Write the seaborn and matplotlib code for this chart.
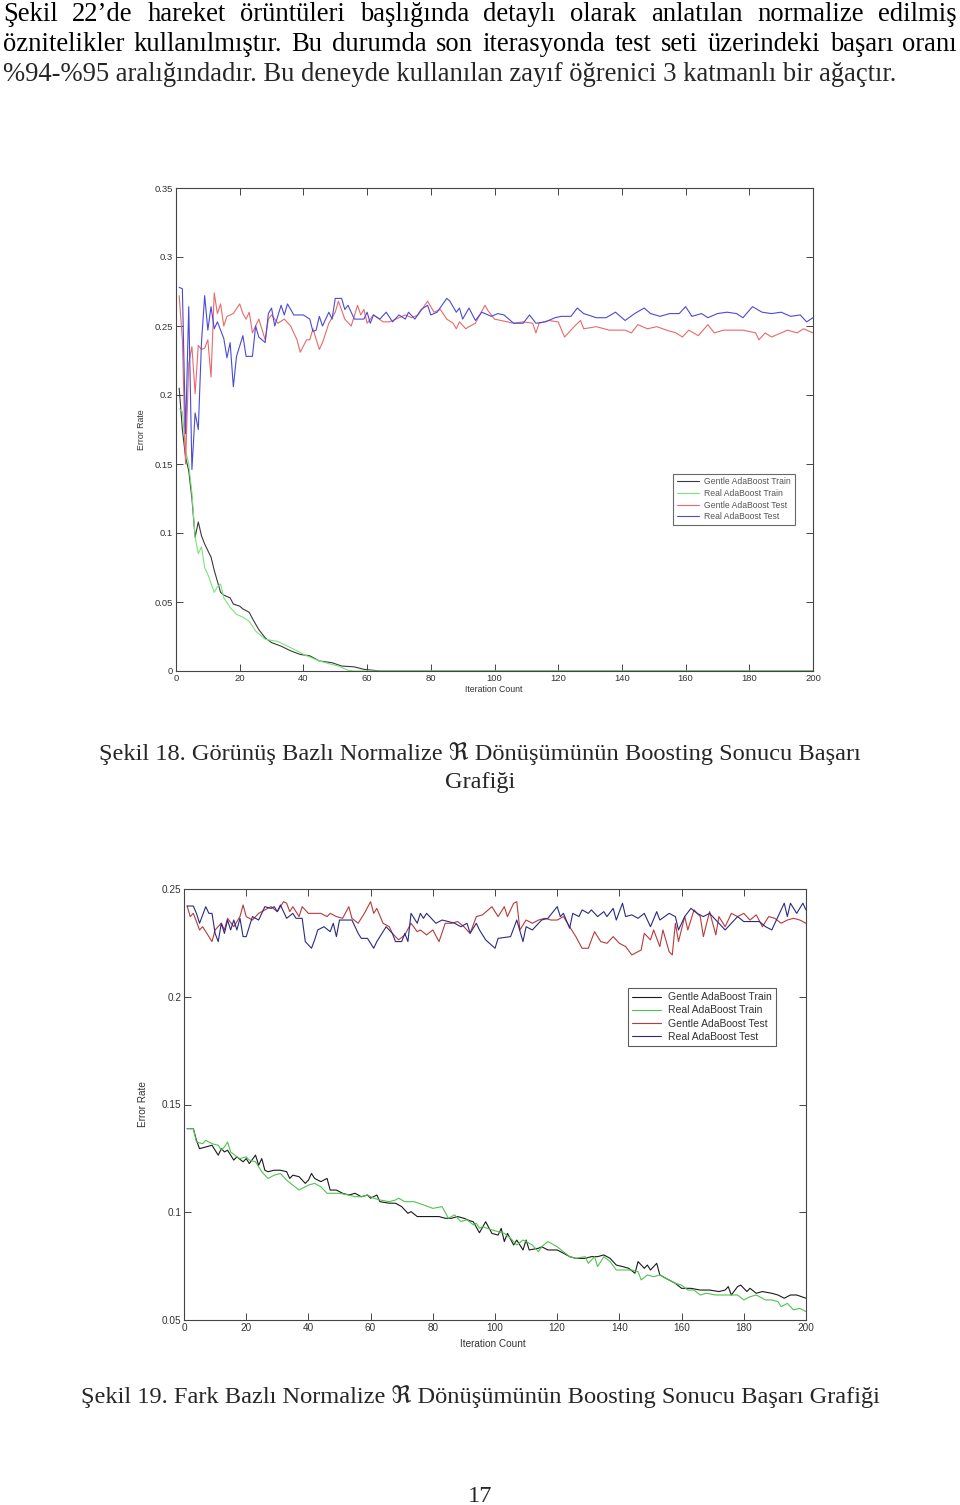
import numpy as np
import pandas as pd
import matplotlib
matplotlib.use("Agg")
import matplotlib.pyplot as plt
import seaborn as sns

# ---- data: chart 1 (Şekil 18) ----
c1_gentle_train_it = [1, 2, 3, 4, 5, 6, 7, 8, 9, 11, 12, 13, 14, 15, 17, 18, 20, 21, 23, 24, 26, 28, 30,
                      33, 36, 39, 42, 45, 49, 52, 56, 59, 62, 64, 200]
c1_gentle_train = [0.205, 0.175, 0.155, 0.145, 0.125, 0.097, 0.108, 0.098, 0.092, 0.0825, 0.073, 0.065,
                   0.057, 0.055, 0.053, 0.0485, 0.047, 0.045, 0.0425, 0.038, 0.030, 0.024, 0.0206,
                   0.018, 0.0146, 0.012, 0.011, 0.0073, 0.006, 0.0036, 0.003, 0.0012, 0.0005, 0.0, 0.0]

c1_real_train_it = [1, 2, 3, 4, 5, 6, 7, 8, 9, 10, 12, 13, 14, 15, 17, 19, 21, 23, 25, 28, 32, 35, 38,
                    41, 45, 48, 51, 54, 56, 200]
c1_real_train = [0.19, 0.188, 0.16, 0.150, 0.129, 0.097, 0.085, 0.090, 0.075, 0.070, 0.057, 0.061, 0.063,
                 0.053, 0.046, 0.041, 0.039, 0.036, 0.029, 0.023, 0.0214, 0.018, 0.0146, 0.011, 0.0073,
                 0.0053, 0.0036, 0.0005, 0.0, 0.0]

c1_gentle_test_it = [1, 2, 3, 4, 5, 6, 7, 8, 9, 10, 11, 12, 13, 14, 15, 16, 18, 20, 21, 22, 23, 24, 26,
                     28, 29, 30, 32, 34, 36, 38, 39, 41, 42, 43, 45, 46, 47, 48, 50, 51, 53, 55, 57, 58,
                     59, 60, 62, 65, 67, 70, 72, 74, 76, 79, 81, 83, 85, 87, 88, 89, 91, 92, 94, 97, 98,
                     100, 102, 106, 109, 112, 113, 114, 117, 120, 122, 125, 127, 128, 132, 136, 141, 143,
                     145, 148, 151, 154, 157, 159, 161, 164, 167, 169, 172, 175, 178, 182, 183, 185, 187,
                     190, 192, 195, 197, 200]
c1_gentle_test = [0.272, 0.240, 0.150, 0.223, 0.235, 0.201, 0.236, 0.233, 0.234, 0.240, 0.213, 0.274,
                  0.259, 0.266, 0.250, 0.257, 0.259, 0.266, 0.259, 0.255, 0.260, 0.245, 0.255, 0.240,
                  0.255, 0.258, 0.252, 0.255, 0.250, 0.240, 0.231, 0.240, 0.240, 0.248, 0.233, 0.238,
                  0.245, 0.252, 0.260, 0.268, 0.255, 0.250, 0.265, 0.258, 0.262, 0.252, 0.258, 0.253,
                  0.253, 0.256, 0.258, 0.256, 0.258, 0.268, 0.260, 0.262, 0.255, 0.252, 0.248, 0.253,
                  0.248, 0.2495, 0.252, 0.265, 0.261, 0.255, 0.254, 0.252, 0.253, 0.252, 0.245, 0.252,
                  0.254, 0.253, 0.242, 0.2495, 0.254, 0.248, 0.2495, 0.247, 0.247, 0.245, 0.251, 0.248,
                  0.2495, 0.247, 0.245, 0.242, 0.247, 0.243, 0.251, 0.245, 0.247, 0.247, 0.247, 0.245,
                  0.240, 0.245, 0.242, 0.245, 0.247, 0.245, 0.248, 0.245]

c1_real_test_it = [1, 2, 3, 4, 5, 6, 7, 8, 9, 10, 11, 12, 13, 15, 16, 17, 18, 19, 21, 22, 24, 25, 26, 28,
                   29, 30, 31, 33, 34, 35, 37, 40, 42, 43, 44, 45, 46, 48, 49, 50, 52, 53, 54, 56, 59,
                   60, 61, 62, 64, 66, 68, 70, 72, 73, 75, 77, 79, 80, 82, 85, 86, 88, 89, 90, 92, 94,
                   96, 99, 101, 103, 106, 109, 111, 113, 116, 119, 121, 124, 126, 128, 132, 135, 138,
                   141, 144, 147, 149, 152, 155, 158, 160, 162, 165, 167, 170, 173, 176, 178, 181, 184,
                   187, 190, 193, 196, 198, 200]
c1_real_test = [0.278, 0.277, 0.172, 0.264, 0.146, 0.187, 0.175, 0.238, 0.272, 0.247, 0.264, 0.248,
                0.253, 0.241, 0.227, 0.238, 0.206, 0.228, 0.243, 0.228, 0.228, 0.250, 0.242, 0.238,
                0.259, 0.263, 0.250, 0.265, 0.258, 0.266, 0.258, 0.258, 0.255, 0.246, 0.247, 0.257,
                0.250, 0.260, 0.255, 0.270, 0.270, 0.262, 0.265, 0.255, 0.255, 0.260, 0.252, 0.258,
                0.255, 0.260, 0.253, 0.258, 0.255, 0.260, 0.255, 0.262, 0.265, 0.258, 0.260, 0.270,
                0.268, 0.260, 0.263, 0.255, 0.263, 0.254, 0.260, 0.257, 0.259, 0.258, 0.252, 0.252,
                0.258, 0.252, 0.253, 0.256, 0.257, 0.257, 0.263, 0.259, 0.256, 0.256, 0.260, 0.254,
                0.259, 0.263, 0.259, 0.257, 0.259, 0.259, 0.264, 0.257, 0.259, 0.256, 0.259, 0.260,
                0.259, 0.256, 0.264, 0.260, 0.259, 0.260, 0.257, 0.258, 0.253, 0.256]

# ---- data: chart 2 (Şekil 19) ----
c2_gentle_train_it = [1, 3, 4, 5, 7, 9, 11, 12, 13, 14, 16, 17, 19, 20, 21, 23, 24, 25, 26, 27, 29, 31,
                      33, 34, 35, 37, 39, 40, 41, 42, 44, 46, 47, 49, 51, 53, 55, 57, 59, 60, 62, 63, 66,
                      68, 70, 72, 73, 75, 79, 82, 84, 86, 88, 90, 92, 93, 95, 97, 99, 101, 102, 103, 104,
                      106, 107, 109, 110, 111, 114, 115, 117, 120, 122, 124, 126, 129, 131, 133, 135, 137,
                      139, 141, 143, 145, 146, 148, 149, 150, 152, 153, 155, 158, 160, 163, 166, 169, 172,
                      174, 175, 176, 178, 179, 181, 182, 184, 186, 189, 191, 193, 195, 197, 200]
c2_gentle_train = [0.1388, 0.1388, 0.1334, 0.1295, 0.1303, 0.1311, 0.1265, 0.1295, 0.1280, 0.1288,
                   0.1242, 0.1257, 0.1234, 0.1249, 0.1226, 0.1265, 0.1218, 0.1249, 0.1195, 0.1188,
                   0.1195, 0.1195, 0.1188, 0.1157, 0.1172, 0.1165, 0.1134, 0.1149, 0.1180, 0.1157,
                   0.1142, 0.1157, 0.1103, 0.1103, 0.1088, 0.1080, 0.1088, 0.1072, 0.1080, 0.1065,
                   0.1080, 0.1049, 0.1042, 0.1042, 0.1026, 0.0995, 0.1003, 0.0980, 0.0980, 0.0980,
                   0.0972, 0.0972, 0.0980, 0.0972, 0.0960, 0.0956, 0.0905, 0.0956, 0.0902, 0.0894,
                   0.0925, 0.0864, 0.0902, 0.0848, 0.0871, 0.0825, 0.0871, 0.0825, 0.0833, 0.0840,
                   0.0825, 0.0825, 0.0810, 0.0794, 0.0786, 0.0786, 0.0794, 0.0794, 0.0802, 0.0786,
                   0.0755, 0.0748, 0.0740, 0.0717, 0.0771, 0.0740, 0.0755, 0.0732, 0.0763, 0.0709,
                   0.0693, 0.0670, 0.0647, 0.0647, 0.0639, 0.0639, 0.0632, 0.0639, 0.0655, 0.0616,
                   0.0655, 0.0662, 0.0632, 0.0647, 0.0624, 0.0632, 0.0624, 0.0616, 0.0601, 0.0616,
                   0.0616, 0.0601]

c2_real_train_it = [1, 3, 4, 6, 7, 9, 11, 12, 13, 14, 15, 17, 18, 20, 21, 23, 25, 27, 29, 31, 33, 35, 37,
                    40, 42, 44, 46, 48, 50, 53, 55, 57, 59, 61, 63, 66, 68, 69, 71, 74, 77, 80, 83, 85,
                    87, 89, 91, 93, 94, 95, 96, 99, 101, 103, 105, 107, 109, 110, 112, 114, 115, 117,
                    120, 122, 124, 126, 129, 130, 132, 133, 135, 137, 139, 141, 144, 146, 147, 149, 151,
                    153, 155, 158, 160, 162, 164, 166, 168, 171, 175, 178, 180, 182, 184, 187, 189, 191,
                    192, 194, 196, 198, 200]
c2_real_train = [0.1388, 0.1388, 0.1326, 0.1318, 0.1334, 0.1318, 0.1311, 0.1288, 0.1303, 0.1326, 0.1280,
                 0.1257, 0.1249, 0.1257, 0.1242, 0.1234, 0.1188, 0.1157, 0.1172, 0.1180, 0.1149, 0.1126,
                 0.1103, 0.1126, 0.1134, 0.1118, 0.1088, 0.1088, 0.1088, 0.1080, 0.1072, 0.1072, 0.1080,
                 0.1065, 0.1057, 0.1049, 0.1057, 0.1065, 0.1049, 0.1049, 0.1034, 0.1018, 0.1026, 0.0972,
                 0.0988, 0.0957, 0.0965, 0.0942, 0.0949, 0.0926, 0.0933, 0.0918, 0.0910, 0.0902, 0.0879,
                 0.0848, 0.0871, 0.0864, 0.0848, 0.0817, 0.0840, 0.0864, 0.0840, 0.0817, 0.0794, 0.0786,
                 0.0794, 0.0763, 0.0794, 0.0748, 0.0794, 0.0771, 0.0732, 0.0732, 0.0732, 0.0724, 0.0686,
                 0.0709, 0.0701, 0.0709, 0.0693, 0.0670, 0.0662, 0.0639, 0.0639, 0.0616, 0.0624, 0.0616,
                 0.0616, 0.0616, 0.0593, 0.0608, 0.0616, 0.0593, 0.0593, 0.0585, 0.0562, 0.0577, 0.0547,
                 0.0554, 0.0539]

c2_gentle_test_it = [1, 2, 3, 5, 6, 9, 10, 12, 13, 14, 16, 18, 19, 20, 22, 24, 26, 28, 30, 32, 33, 34, 35,
                     37, 38, 40, 42, 44, 46, 47, 49, 51, 53, 54, 56, 58, 60, 61, 62, 64, 66, 67, 69, 71,
                     73, 75, 76, 78, 80, 82, 84, 86, 88, 90, 92, 94, 96, 99, 101, 103, 104, 106, 107,
                     108, 110, 112, 114, 116, 118, 120, 122, 124, 126, 128, 130, 132, 134, 136, 138, 140,
                     142, 144, 147, 148, 150, 151, 153, 154, 156, 157, 158, 159, 161, 162, 164, 166, 167,
                     169, 171, 172, 174, 176, 178, 180, 182, 184, 186, 188, 190, 192, 194, 196, 198, 200]
c2_gentle_test = [0.2421, 0.2372, 0.2387, 0.2310, 0.2325, 0.2256, 0.2310, 0.2341, 0.2310, 0.2364,
                  0.2325, 0.2372, 0.2426, 0.2372, 0.2356, 0.2387, 0.2403, 0.2418, 0.2395, 0.2441,
                  0.2434, 0.2395, 0.2418, 0.2372, 0.2418, 0.2387, 0.2387, 0.2387, 0.2372, 0.2387,
                  0.2372, 0.2364, 0.2418, 0.2364, 0.2341, 0.2387, 0.2441, 0.2387, 0.2410, 0.2341,
                  0.2325, 0.2294, 0.2264, 0.2287, 0.2341, 0.2302, 0.2310, 0.2287, 0.2310, 0.2256,
                  0.2341, 0.2341, 0.2349, 0.2325, 0.2294, 0.2372, 0.2380, 0.2418, 0.2372, 0.2418,
                  0.2372, 0.2434, 0.2441, 0.2310, 0.2356, 0.2341, 0.2356, 0.2364, 0.2356, 0.2356,
                  0.2372, 0.2325, 0.2279, 0.2225, 0.2225, 0.2302, 0.2256, 0.2248, 0.2279, 0.2248,
                  0.2233, 0.2194, 0.2217, 0.2294, 0.2264, 0.2310, 0.2233, 0.2310, 0.2209, 0.2194,
                  0.2341, 0.2256, 0.2372, 0.2310, 0.2403, 0.2372, 0.2279, 0.2395, 0.2287, 0.2372,
                  0.2325, 0.2387, 0.2372, 0.2387, 0.2356, 0.2380, 0.2325, 0.2372, 0.2364, 0.2341,
                  0.2356, 0.2364, 0.2356, 0.2341]

c2_real_test_it = [1, 3, 4, 5, 7, 8, 9, 10, 11, 12, 13, 14, 15, 16, 17, 18, 19, 20, 22, 24, 25, 26, 28,
                   29, 30, 31, 32, 33, 35, 36, 38, 39, 41, 42, 43, 45, 47, 48, 49, 50, 53, 54, 56, 57,
                   59, 61, 62, 63, 65, 67, 68, 70, 71, 72, 73, 75, 76, 77, 78, 79, 81, 83, 85, 87, 89,
                   91, 92, 94, 95, 97, 100, 101, 105, 107, 109, 110, 112, 115, 117, 120, 121, 122, 124,
                   125, 127, 128, 130, 131, 133, 135, 136, 138, 139, 141, 142, 144, 146, 148, 150, 152,
                   153, 156, 158, 159, 161, 163, 165, 167, 169, 172, 174, 176, 178, 180, 183, 185, 187,
                   189, 191, 193, 194, 195, 197, 199, 200]
c2_real_test = [0.2421, 0.2421, 0.2387, 0.2341, 0.2418, 0.2387, 0.2387, 0.2294, 0.2256, 0.2341, 0.2294,
                0.2356, 0.2310, 0.2356, 0.2310, 0.2364, 0.2279, 0.2279, 0.2372, 0.2356, 0.2387, 0.2418,
                0.2410, 0.2418, 0.2395, 0.2426, 0.2395, 0.2364, 0.2387, 0.2364, 0.2364, 0.2256, 0.2225,
                0.2264, 0.2310, 0.2325, 0.2302, 0.2341, 0.2279, 0.2356, 0.2356, 0.2356, 0.2294, 0.2271,
                0.2271, 0.2225, 0.2256, 0.2279, 0.2325, 0.2294, 0.2256, 0.2256, 0.2294, 0.2256, 0.2387,
                0.2341, 0.2387, 0.2364, 0.2387, 0.2372, 0.2341, 0.2356, 0.2349, 0.2341, 0.2325, 0.2341,
                0.2295, 0.2341, 0.2310, 0.2264, 0.2225, 0.2271, 0.2279, 0.2356, 0.2256, 0.2325, 0.2310,
                0.2356, 0.2364, 0.2418, 0.2372, 0.2387, 0.2318, 0.2387, 0.2372, 0.2403, 0.2387, 0.2403,
                0.2372, 0.2395, 0.2372, 0.2410, 0.2356, 0.2434, 0.2372, 0.2380, 0.2364, 0.2387, 0.2325,
                0.2395, 0.2356, 0.2387, 0.2372, 0.2310, 0.2372, 0.2410, 0.2387, 0.2372, 0.2387, 0.2341,
                0.2310, 0.2341, 0.2372, 0.2349, 0.2349, 0.2349, 0.2325, 0.2310, 0.2372, 0.2434, 0.2372,
                0.2434, 0.2387, 0.2434, 0.2403]

series_names = ["Gentle AdaBoost Train", "Real AdaBoost Train", "Gentle AdaBoost Test", "Real AdaBoost Test"]

c1_yticks = [0, 0.05, 0.1, 0.15, 0.2, 0.25, 0.3, 0.35]
c1_ylabels = ["0", "0.05", "0.1", "0.15", "0.2", "0.25", "0.3", "0.35"]
c2_yticks = [0.05, 0.1, 0.15, 0.2, 0.25]
c2_ylabels = ["0.05", "0.1", "0.15", "0.2", "0.25"]
xticks = list(range(0, 201, 20))

body_line1 = "Şekil 22’de hareket örüntüleri başlığında detaylı olarak anlatılan normalize edilmiş"
body_line2 = "öznitelikler kullanılmıştır. Bu durumda son iterasyonda test seti üzerindeki başarı oranı"
body_line3 = "%94-%95 aralığındadır. Bu deneyde kullanılan zayıf öğrenici 3 katmanlı bir ağaçtır."
caption1_a = "Şekil 18. Görünüş Bazlı Normalize ℜ Dönüşümünün Boosting Sonucu Başarı"
caption1_b = "Grafiği"
caption2 = "Şekil 19. Fark Bazlı Normalize ℜ Dönüşümünün Boosting Sonucu Başarı Grafiği"
page_no = "17"


def long_frame(pairs):
    rows = []
    for name, (its, vals) in zip(series_names, pairs):
        rows.append(pd.DataFrame({"iter": its, "err": vals, "series": name}))
    return pd.concat(rows, ignore_index=True)


df1 = long_frame([(c1_gentle_train_it, c1_gentle_train), (c1_real_train_it, c1_real_train),
                  (c1_gentle_test_it, c1_gentle_test), (c1_real_test_it, c1_real_test)])
df2 = long_frame([(c2_gentle_train_it, c2_gentle_train), (c2_real_train_it, c2_real_train),
                  (c2_gentle_test_it, c2_gentle_test), (c2_real_test_it, c2_real_test)])

pal1 = dict(zip(series_names, ["#3a3a3a", "#7be37b", "#e86a6a", "#4a4ad8"]))
pal2 = dict(zip(series_names, ["#1a1a1a", "#4fc44f", "#b83a3a", "#2a2a85"]))

sns.set_theme(style="ticks")
plt.rcParams["font.family"] = ["Liberation Sans", "DejaVu Sans"]

W, H = 960, 1505
fig = plt.figure(figsize=(W / 100, H / 100), dpi=100)
fig.patch.set_facecolor("white")


def box(x0, y0, x1, y1):
    return [x0 / W, 1 - y1 / H, (x1 - x0) / W, (y1 - y0) / H]


def style_axes(ax, yticks, ylabels, fs, ylim):
    ax.set_xlim(0, 200)
    ax.set_ylim(*ylim)
    ax.set_xticks(xticks)
    ax.set_xticklabels([str(t) for t in xticks])
    ax.set_yticks(yticks)
    ax.set_yticklabels(ylabels)
    ax.tick_params(direction="in", length=5, width=0.7, top=True, right=True,
                   labelsize=fs, labelcolor="#333333", color="#444444", pad=2)
    for s in ax.spines.values():
        s.set_visible(True)
        s.set_color("#444444")
        s.set_linewidth(0.8)
    ax.set_facecolor("white")


serif = ["Liberation Serif", "DejaVu Serif", "DejaVu Sans"]

# chart 1
ax1 = fig.add_axes(box(176, 188, 813, 671))
sns.lineplot(data=df1, x="iter", y="err", hue="series", hue_order=series_names, palette=pal1,
             estimator=None, sort=False, linewidth=0.8, ax=ax1)
style_axes(ax1, c1_yticks, c1_ylabels, 6.8, (0, 0.35))
ax1.set_xlabel("Iteration Count", fontsize=6.3, color="#333333")
ax1.set_ylabel("Error Rate", fontsize=6.3, color="#333333")
ax1.xaxis.set_label_coords(0.498, -0.030)
ax1.yaxis.set_label_coords(-0.047, 0.5)
h, l = ax1.get_legend_handles_labels()
leg = ax1.legend(h, l, loc="upper left", bbox_to_anchor=(0.781, 0.408), fontsize=6.2, frameon=True,
                 fancybox=False, edgecolor="#444444", handlelength=2.6, handletextpad=0.6,
                 labelspacing=0.3, borderpad=0.4, borderaxespad=0)
leg.get_frame().set_linewidth(0.8)
for t in leg.get_texts():
    t.set_color("#555555")

# chart 2
ax2 = fig.add_axes(box(184, 889, 806, 1320))
sns.lineplot(data=df2, x="iter", y="err", hue="series", hue_order=series_names, palette=pal2,
             estimator=None, sort=False, linewidth=0.8, ax=ax2)
style_axes(ax2, c2_yticks, c2_ylabels, 7.2, (0.05, 0.25))
ax2.set_xlabel("Iteration Count", fontsize=7.2, color="#333333")
ax2.set_ylabel("Error Rate", fontsize=7.2, color="#333333")
ax2.xaxis.set_label_coords(0.497, -0.045)
ax2.yaxis.set_label_coords(-0.058, 0.5)
h, l = ax2.get_legend_handles_labels()
leg2 = ax2.legend(h, l, loc="upper left", bbox_to_anchor=(0.714, 0.770), fontsize=7.5, frameon=True,
                  fancybox=False, edgecolor="#333333", handlelength=2.8, handletextpad=0.6,
                  labelspacing=0.3, borderpad=0.4, borderaxespad=0)
leg2.get_frame().set_linewidth(0.8)
for t in leg2.get_texts():
    t.set_color("#333333")

# page text
renderer = fig.canvas.get_renderer()
body_fs = 19.2
cap_fs = 17.6


def justified(line, y, x0, x1):
    words = line.split(" ")
    texts = [fig.text(0, 1 - y / H, w, fontsize=body_fs, family=serif, va="baseline", color="black")
             for w in words]
    widths = [t.get_window_extent(renderer).width for t in texts]
    gap = (x1 - x0 - sum(widths)) / (len(words) - 1)
    x = x0
    for t, w in zip(texts, widths):
        t.set_x(x / W)
        x += w + gap


justified(body_line1, 21, 3, 957)
justified(body_line2, 51, 3, 957)
fig.text(3 / W, 1 - 81 / H, body_line3, fontsize=body_fs, family=serif, va="baseline")

fig.text(0.5, 1 - 760 / H, caption1_a, fontsize=cap_fs, family=serif, va="baseline", ha="center")
fig.text(0.5, 1 - 788 / H, caption1_b, fontsize=cap_fs, family=serif, va="baseline", ha="center")
fig.text(0.5, 1 - 1403 / H, caption2, fontsize=cap_fs, family=serif, va="baseline", ha="center")
fig.text(0.5, 1 - 1502 / H, page_no, fontsize=cap_fs, family=serif, va="baseline", ha="center")

fig.savefig("out.png", dpi=100, facecolor="white")
